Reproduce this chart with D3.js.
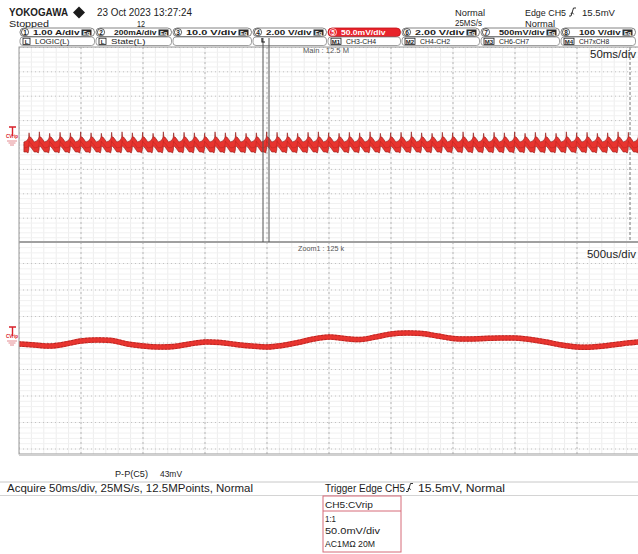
<!DOCTYPE html>
<html><head><meta charset="utf-8">
<script src="https://cdn.jsdelivr.net/npm/d3@7"></script>
<style>
body{margin:0;background:#fff;}
svg{display:block;font-family:"Liberation Sans",Arial,sans-serif;}
</style>
</head><body>
<svg id="c" width="638" height="554"></svg>
<script>
// ---------------- DATA ----------------
const headerBrand = "YOKOGAWA";
const headerDate = "23 Oct 2023 13:27:24";
const headerState = "Stopped";
const headerCount = "12";
const headerMode = ["Normal", "25MS/s"];
const headerTrig = ["Edge CH5", "15.5mV", "Normal"];
const chanNums = ["1","2","3","4","5","6","7","8"];
const chanScales = ["1.00 A/div","200mA/div","10.0 V/div","2.00 V/div","50.0mV/div","2.00 V/div","500mV/div","100 V/div"];
const row2Badges = ["L","L","","","M1","M2","M3","M4"];
const row2Labels = ["LOGIC(L)","State(L)","","","CH3-CH4","CH4-CH2","CH6-CH7","CH7xCH8"];

// Main window (50 ms/div, 10 div) : ripple cycles, spike time (ms) and spike peak (mV)
const mainDivMs = [0,50,100,150,200,250,300,350,400,450,500];
const mainSpikeMs = [8.1,16.4,24.7,33.1,41.4,49.7,58.1,66.4,74.7,83.1,91.4,99.7,108.1,116.4,124.7,133.1,141.4,149.7,158.1,166.4,174.7,183.1,191.4,199.7,208.1,216.4,224.7,233.1,241.4,249.7,258.1,266.4,274.7,283.1,291.4,299.7,308.1,316.4,324.7,333.1,341.4,349.7,358.1,366.4,374.7,383.1,391.4,399.7,408.1,416.4,424.7,433.1,441.4,449.7,458.1,466.4,474.7,483.1,491.4,499.7];
const mainSpikePeakMv = [25,27,24,26,25,27,25,24,26,27,25,26,24,27,25,26,25,24,27,25,26,24,25,27,26,25,24,26,27,25,24,26,25,27,24,25,26,27,25,24,26,25,27,25,24,26,25,27,24,26,25,24,27,25,26,24,25,27,26,25];
// one ripple cycle around each spike: time offset (ms), upper/lower envelope (mV)
const cycleOffsetMs = [-4.15,-2.1,-0.8,-0.25,0,0.4,1.2,2.5,4.15];
const cycleTopMv    = [6.2,8.2,12.3,16.4,null,16.4,16.4,12.3,6.2];
const cycleBotMv    = [-14.4,-14.4,-16.4,-10.3,-4.1,-2.1,-4.1,-8.2,-14.4];

// Zoom1 window (500 us/div) : trace samples
const zoomDivUs = [0,500,1000,1500,2000,2500,3000,3500,4000,4500,5000];
const zoomTimeUs = [0,125,250,375,500,625,750,875,1000,1125,1250,1375,1500,1625,1750,1875,2000,2125,2250,2375,2500,2625,2750,2875,3000,3125,3250,3375,3500,3625,3750,3875,4000,4125,4250,4375,4500,4625,4750,4875,5000];
const zoomMv = [-1.9,-3.8,-5.7,-1.9,3.8,5.7,4.7,-1.9,-5.7,-7.5,-6.6,-1.9,1.9,0.9,-2.8,-5.7,-7.5,-4.7,0.9,7.5,11.3,8.5,6.6,11.3,17.0,18.9,17.9,13.2,8.5,7.5,8.5,9.4,9.4,6.6,1.9,-3.8,-7.5,-7.5,-4.7,-0.9,1.9];
const voltDivMv = [-200,-150,-100,-50,0,50,100,150,200];

const measText = ["P-P(C5)", "43mV"];
const acquireText = "Acquire 50ms/div, 25MS/s, 12.5MPoints, Normal";
const triggerText = ["Trigger Edge CH5", "15.5mV, Normal"];
const chInfo = ["CH5:CVrip","1:1","50.0mV/div","AC1M\u03A9 20M"];
const mainLabel = "Main : 12.5 M", mainTdiv = "50ms/div";
const zoomLabel = "Zoom1 : 125 k", zoomTdiv = "500us/div";

// ---------------- DRAW ----------------
const svg = d3.select("#c");
const INK = "#1c1c1c";
function txt(x,y,s,size,o={}) {
  const t = svg.append("text").attr("x",x).attr("y",y).attr("font-size",size)
    .attr("fill",o.fill||INK).text(s);
  if (o.w) t.attr("textLength",o.w).attr("lengthAdjust","spacingAndGlyphs");
  if (o.weight) t.attr("font-weight",o.weight);
  if (o.anchor) t.attr("text-anchor",o.anchor);
  if (o.family) t.attr("font-family",o.family);
  return t;
}
function edgeIcon(x,y) { // rising edge symbol
  svg.append("path").attr("d",`M${x},${y} h2 l2.5,-8 h2.5 M${x+3.2},${y-3.5} l-1.6,1.6 M${x+3.2},${y-3.5} l1.4,1.8`)
    .attr("fill","none").attr("stroke",INK).attr("stroke-width",0.9);
}

const gx0 = 19, gx1 = 639, upTop = 47, mid = 242, lowBot = 454;
const xMain = d3.scaleLinear().domain([0,500]).range([gx0,gx1]);
const xZoom = d3.scaleLinear().domain([0,5000]).range([gx0,gx1]);
const yMain = d3.scaleLinear().domain([-50,50]).range([145+24.4,145-24.4]);
const yZoom = d3.scaleLinear().domain([-50,50]).range([343+26.5,343-26.5]);

// header
txt(9,16,headerBrand,11,{weight:"bold",w:59});
svg.append("path").attr("d","M79,6.5 L85,12.5 L79,18.5 L73,12.5 Z").attr("fill",INK);
txt(97,16,headerDate,10,{w:95});
txt(9,26.5,headerState,9.5,{w:40});
txt(137,26.5,headerCount,9,{w:8});
txt(455,16,headerMode[0],9.5,{w:30});
txt(455,26,headerMode[1],9.5,{w:27});
txt(525,16,headerTrig[0],9.5,{w:41});
edgeIcon(569,16);
txt(582,16,headerTrig[1],9.5,{w:33});
txt(525,26.5,headerTrig[2],9.5,{w:30});

// channel tabs
const tabX = [20,96,173,253,328,402,481,561,637];
chanNums.forEach((n,i)=>{
  const x0 = tabX[i], x1 = tabX[i+1]-1.5;
  const red = i===4;
  svg.append("rect").attr("x",x0).attr("y",28).attr("width",x1-x0).attr("height",8.5).attr("rx",4)
    .attr("fill",red?"#e8232b":"#fff").attr("stroke",red?"#c01018":"#666").attr("stroke-width",0.8);
  svg.append("circle").attr("cx",x0+5).attr("cy",32.2).attr("r",3.6).attr("fill","none")
    .attr("stroke",red?"#fff":INK).attr("stroke-width",0.7);
  txt(x0+5,34.8,n,6.5,{anchor:"middle",fill:red?"#fff":INK,weight:"bold"});
  const lab = chanScales[i];
  const lx = x0 + (i===1||i===6||i===7 ? 18 : 13);
  const badgeX = x1 - 13;
  txt(lx,35.3,lab,8,{w:badgeX-lx-2,fill:red?"#fff":INK,weight:"bold"});
  if (!red) {
    svg.append("rect").attr("x",badgeX).attr("y",29.5).attr("width",10).attr("height",6).attr("fill","#2a2a2a");
    txt(badgeX+5,34.6,"Eq",5.5,{anchor:"middle",fill:"#fff",weight:"bold"});
  }
  // second row
  svg.append("rect").attr("x",x0).attr("y",37).attr("width",x1-x0).attr("height",8.5).attr("rx",3)
    .attr("fill","#fff").attr("stroke","#777").attr("stroke-width",0.7);
  if (row2Badges[i]) {
    const bw = row2Badges[i].length>1 ? 10 : 7;
    svg.append("rect").attr("x",x0+3).attr("y",38.2).attr("width",bw).attr("height",6.2)
      .attr("fill","#fff").attr("stroke",INK).attr("stroke-width",0.8);
    txt(x0+3+bw/2,43.8,row2Badges[i],6,{anchor:"middle",weight:"bold"});
    txt(x0+3+bw+5,44,row2Labels[i],8,{w:row2Labels[i].length*4.3});
  }
});

// grid background
function drawPanel(y0,y1,xs,xDivs,ys,yDivs,clipId){
  const g = svg.append("g");
  svg.append("clipPath").attr("id",clipId).append("rect").attr("x",gx0).attr("y",y0).attr("width",gx1-gx0).attr("height",y1-y0);
  g.attr("clip-path",`url(#${clipId})`);
  const step = (xDivs[1]-xDivs[0])/5;
  d3.range(xDivs[0], xDivs[xDivs.length-1]+0.001, step).forEach(v=>{
    g.append("line").attr("x1",xs(v)).attr("x2",xs(v)).attr("y1",y0).attr("y2",y1)
      .attr("stroke","#ededed").attr("stroke-width",1);
  });
  const ystep = (yDivs[1]-yDivs[0])/5;
  d3.range(yDivs[0]-200, yDivs[yDivs.length-1]+200, ystep).forEach(v=>{
    g.append("line").attr("x1",gx0).attr("x2",gx1).attr("y1",ys(v)).attr("y2",ys(v))
      .attr("stroke","#f1f1f1").attr("stroke-width",1);
  });
  xDivs.forEach(v=>{
    g.append("line").attr("x1",xs(v)).attr("x2",xs(v)).attr("y1",y0).attr("y2",y1)
      .attr("stroke","#b5b5b5").attr("stroke-width",1).attr("stroke-dasharray","2,3");
  });
  d3.range(yDivs[0]-150, yDivs[yDivs.length-1]+151, yDivs[1]-yDivs[0]).forEach(v=>{
    g.append("line").attr("x1",gx0).attr("x2",gx1).attr("y1",ys(v)).attr("y2",ys(v))
      .attr("stroke","#c2c2c2").attr("stroke-width",1).attr("stroke-dasharray","1,3");
  });
  return g;
}
const gMain = drawPanel(upTop,mid,xMain,mainDivMs,yMain,voltDivMv,"clipMain");
const gZoom = drawPanel(mid,lowBot,xZoom,zoomDivUs,yZoom,voltDivMv,"clipZoom");

gMain.append("line").attr("x1",630).attr("x2",630).attr("y1",upTop).attr("y2",mid)
  .attr("stroke","#777").attr("stroke-width",1).attr("stroke-dasharray","3,2");

// main trace (envelope)
const mainPts = [];
mainSpikeMs.forEach((t0,k)=>{
  cycleOffsetMs.forEach((dt,j)=>{
    mainPts.push({t:t0+dt, top: cycleTopMv[j]===null ? mainSpikePeakMv[k] : cycleTopMv[j], bot: cycleBotMv[j]});
  });
});
const areaMain = d3.area().x(d=>xMain(d.t)).y0(d=>yMain(d.bot)).y1(d=>yMain(d.top));
gMain.append("path").datum(mainPts).attr("d",areaMain)
  .attr("fill","#e8342f").attr("stroke","#8e1a16").attr("stroke-width",0.6);
gMain.append("path").datum(mainPts).attr("d",d3.line().x(d=>xMain(d.t)).y(d=>yMain((d.top+d.bot)/2-2)))
  .attr("fill","none").attr("stroke","#b82420").attr("stroke-width",0.8).attr("opacity",0.6);

// zoom trace
const zoomPts = zoomTimeUs.map((t,i)=>({t, v: zoomMv[i]}));
const lineZoom = d3.line().x(d=>xZoom(d.t)).y(d=>yZoom(d.v)).curve(d3.curveCatmullRom);
gZoom.append("path").datum(zoomPts).attr("d",lineZoom).attr("fill","none")
  .attr("stroke","#e8342f").attr("stroke-width",5.5);
[-2.2,2.2].forEach(off=>{
  gZoom.append("path").datum(zoomPts).attr("d",lineZoom).attr("fill","none")
    .attr("transform",`translate(0,${off})`).attr("stroke","#9a2220").attr("stroke-width",0.7)
    .attr("stroke-dasharray","2,1.5");
});

// panel frames
svg.append("rect").attr("x",gx0).attr("y",upTop).attr("width",gx1-gx0).attr("height",lowBot-upTop)
  .attr("fill","none").attr("stroke","#9a9a9a").attr("stroke-width",1);
svg.append("line").attr("x1",gx0).attr("x2",gx1).attr("y1",mid).attr("y2",mid).attr("stroke","#a0a0a0").attr("stroke-width",2);
svg.append("line").attr("x1",gx0).attr("x2",gx1).attr("y1",lowBot+1).attr("y2",lowBot+1).attr("stroke","#d0d0d0").attr("stroke-width",2);

// zoom box cursors
[263,269].forEach(x=>{
  svg.append("line").attr("x1",x).attr("x2",x).attr("y1",38).attr("y2",mid).attr("stroke","#555").attr("stroke-width",1);
});
svg.append("path").attr("d","M262,38 v4 h3").attr("fill","none").attr("stroke",INK).attr("stroke-width",1.2);

// panel texts
txt(303,53,mainLabel,6.5,{fill:"#555",w:46});
txt(636,58,mainTdiv,11,{anchor:"end",w:46});
txt(298,251,zoomLabel,6.5,{fill:"#555",w:46});
txt(636,258,zoomTdiv,11,{anchor:"end",w:49});

// ground markers
function groundMarker(yZero){
  svg.append("path").attr("d",`M9,${yZero-15} h7 M12.5,${yZero-15} v9`).attr("stroke","#d8202a").attr("stroke-width",1.4).attr("fill","none");
  txt(6,yZero-4,"CVrip",5.5,{fill:"#d8202a",weight:"bold",w:12});
  svg.append("path").attr("d",`M7,${yZero-1} h10 M8.5,${yZero+1} h7 M10,${yZero+3} h4`).attr("stroke","#e48a90").attr("stroke-width",1).attr("fill","none");
}
groundMarker(yMain(0)-3);
groundMarker(yZoom(0)-1);

// bottom info
svg.append("line").attr("x1",0).attr("x2",638).attr("y1",482).attr("y2",482).attr("stroke","#c8c8c8");
svg.append("line").attr("x1",0).attr("x2",638).attr("y1",495.5).attr("y2",495.5).attr("stroke","#d4d4d4");
txt(115,477,measText[0],9.5,{w:33});
txt(160,477,measText[1],9.5,{w:22});
txt(7,492,acquireText,10,{w:246});
txt(325,492,triggerText[0],10,{w:80});
edgeIcon(406,491.5);
txt(418,492,triggerText[1],10,{w:87});
svg.append("rect").attr("x",323).attr("y",496).attr("width",78).attr("height",56)
  .attr("fill","#fff").attr("stroke","#d66a78").attr("stroke-width",1);
svg.append("line").attr("x1",323).attr("x2",401).attr("y1",511).attr("y2",511).attr("stroke","#d66a78");
txt(325,507.5,chInfo[0],9.5,{w:48});
txt(325,522,chInfo[1],9.5,{w:11});
txt(325,534,chInfo[2],9.5,{w:55});
txt(325,546.5,chInfo[3],9.5,{w:50});
</script>
</body></html>
